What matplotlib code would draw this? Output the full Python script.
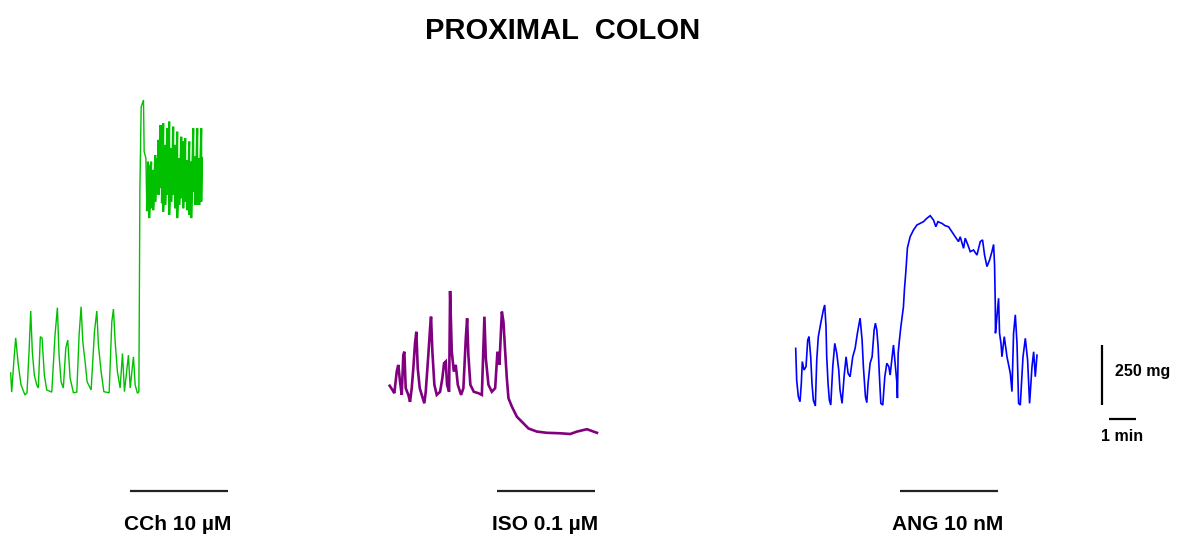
import matplotlib
matplotlib.use("Agg")
import matplotlib.pyplot as plt
import numpy as np

plt.rcParams["font.family"] = ["Liberation Sans", "DejaVu Sans"]

# Isometric tension recordings: time (s) from the start of each trace,
# tension (mg) above the lowest point of that trace.
cch_t = [0, 2.2, 8.1, 11.2, 17.1, 23.2, 32.1, 36.6, 41.2, 45.0, 48.6, 53.1, 58.5, 62.1,
         66.6, 70.5, 75.6, 81.0, 92.3, 99.6, 104.9, 108.7, 113.2, 118.3, 123.8, 128.2,
         133.5, 140.9, 148.5, 153.7, 158.2, 162.0, 167.2, 171.7, 180.7, 188.2, 193.5,
         197.1, 203.2, 209.3, 221.2, 227.2, 230.9, 234.7, 239.8, 245.9, 251.2, 255.6,
         264.6, 268.5, 275.8, 279.7, 284.9, 288.0, 289.4, 290.3, 292.5, 293.2, 298.4,
         299.9, 303.8, 306.0]
cch_mg = [92, 12, 166, 238, 125, 42, 0, 9, 179, 350, 179, 83, 42, 29,
          243, 237, 83, 21, 12, 250, 364, 166, 55, 29, 196, 229,
          71, 9, 12, 250, 368, 222, 139, 55, 21, 263, 350,
          208, 97, 14, 9, 305, 358, 222, 97, 29, 173, 14,
          166, 29, 159, 42, 7, 14, 509, 855, 1118, 1201, 1229,
          1014, 987, 770]

# Sustained phasic activity under carbachol: upper and lower excursion per sweep
cch_burst_t = [308.3, 311.2, 315.6, 320.3, 324.8, 329.2, 332.1, 336.6, 339.8, 342.7,
               347.2, 351.8, 356.2, 360.7, 365.2, 369.7, 374.2, 378.7, 383.3, 387.7,
               392.2, 396.7, 401.2, 405.7, 410.2, 414.8, 419.2, 423.7, 428.2]
cch_burst_hi = [972, 959, 972, 938, 1000, 986, 1063, 1125, 1111, 1132,
                1042, 1111, 1139, 1028, 1118, 1042, 1097, 986, 1076, 1056,
                1070, 979, 1056, 972, 1111, 993, 1111, 986, 1111]
cch_burst_lo = [770, 737, 778, 770, 805, 862, 834, 862, 799, 764,
                792, 834, 750, 805, 834, 778, 737, 792, 820, 778,
                805, 770, 750, 737, 847, 792, 792, 792, 805]
cch_end_t, cch_end_mg = 429.8, 987

iso_t = [0, 5.9, 10.4, 15.8, 19.3, 23.2, 27.0, 30.6, 32.9, 36.0, 41.9, 45.7, 49.5,
         53.1, 56.9, 59.9, 63.0, 67.5, 72.0, 77.8, 81.0, 86.8, 90.7, 92.9, 95.9,
         100.4, 105.7, 113.2, 118.3, 122.2, 126.0, 128.9, 133.5, 135.7, 139.5,
         144.1, 148.5, 153.0, 160.4, 165.6, 171.0, 174.0, 176.8, 181.3, 189.0,
         199.4, 207.1, 212.8, 216.0, 221.9, 229.5, 237.0, 242.1, 246.6, 252.0,
         255.6, 259.5, 263.2, 266.9, 274.6, 285.8, 297.0, 311.9, 330.8, 353.2,
         383.3, 405.7, 420.7, 443.3, 458.1, 465.8]
iso_mg = [201, 184, 170, 260, 288, 218, 163, 329, 343, 191, 163, 134, 191,
          274, 378, 426, 274, 191, 163, 128, 176, 329, 440, 489, 343,
          205, 163, 176, 232, 295, 302, 205, 176, 596, 343,
          260, 288, 205, 163, 191, 399, 482, 329, 205, 176,
          170, 163, 489, 315, 205, 176, 191, 343, 288, 510,
          468, 343, 232, 149, 114, 72, 51, 23, 10, 5,
          3, 0, 10, 20, 10, 5]

ang_t = [0, 2.2, 5.9, 9.7, 12.6, 14.8, 18.7, 23.2, 27.0, 29.9, 33.7, 36.6, 39.6,
         44.1, 47.3, 50.8, 56.3, 62.1, 65.2, 68.1, 69.7, 72.7, 75.6, 78.8, 83.3,
         87.8, 92.3, 96.7, 99.6, 104.2, 108.7, 113.2, 117.7, 122.2, 128.2, 133.5,
         138.6, 144.7, 149.2, 152.1, 156.7, 159.8, 162.6, 167.2, 171.7, 176.2,
         179.1, 182.3, 185.2, 188.2, 191.3, 195.7, 200.2, 204.8, 209.3, 212.2,
         216.7, 219.7, 224.1, 227.2, 228.6, 230.2, 233.1, 236.3, 242.1, 244.3,
         247.5, 251.1, 257.1, 264.6, 272.3, 279.7, 287.1, 294.7, 302.2, 309.6,
         315.0, 319.5, 328.5, 336.0, 343.4, 351.0, 358.5, 365.9, 369.7, 377.2,
         380.9, 387.0, 392.2, 399.6, 407.3, 414.8, 419.9, 424.4, 429.8, 435.6,
         441.0, 444.7, 446.9, 448.5, 448.9, 452.2, 455.9, 458.1, 461.3, 463.5,
         468.7, 474.8, 482.3, 486.0, 489.6, 493.5, 497.3, 500.9, 504.7, 510.8,
         516.0, 521.1, 525.6, 531.0, 534.7, 538.4, 542.2]
ang_mg = [240, 108, 39, 18, 94, 185, 150, 164, 275, 289, 205, 94, 25,
          0, 192, 289, 345, 400, 421, 330, 205, 94, 25, 4, 164,
          261, 219, 150, 67, 11, 122, 205, 136, 122, 205, 240,
          303, 366, 275, 164, 39, 14, 94, 178, 205, 316,
          345, 316, 247, 122, 11, 4, 122, 178, 164, 129,
          205, 254, 164, 101, 33, 219, 275, 330, 413, 484,
          560, 659, 705, 733, 754, 761, 768, 782, 793, 775,
          747, 768, 761, 751, 747, 726, 705, 685, 705, 657,
          699, 671, 643, 650, 629, 685, 692, 629, 581, 608,
          643, 673, 588, 421, 303, 372, 449, 303, 261, 205,
          289, 205, 136, 60, 303, 380, 261, 11, 4, 205,
          282, 192, 11, 164, 226, 122, 212]

drug_labels = ["CCh 10 µM", "ISO 0.1 µM", "ANG 10 nM"]
trace_colors = ["#00c000", "#800080", "#0000ff"]
scale_mg = 250
scale_s = 60

# page layout in pixels
W, H = 1178, 540
SEC_PER_PX = scale_s / 26.7
MG_PER_PX = scale_mg / 60.0


def at(x_px, y_px):
    return x_px * SEC_PER_PX, (H - y_px) * MG_PER_PX


# build the carbachol trace: onset, then alternating excursions of the burst
burst = np.column_stack([cch_burst_t, cch_burst_t]).ravel()
burst_mg = np.column_stack([cch_burst_hi, cch_burst_lo]).ravel()

traces = [
    (np.array(cch_t), np.array(cch_mg), at(10.7, 395), 1.0),
    (np.array(iso_t), np.array(iso_mg), at(389.7, 434), 1.9),
    (np.array(ang_t), np.array(ang_mg), at(795.7, 406), 1.2),
]
bar_starts_px = [130, 497, 900]

fig = plt.figure(figsize=(W / 100, H / 100), dpi=100)
ax = fig.add_axes([0, 0, 1, 1])
ax.set_xlim(0, W * SEC_PER_PX)
ax.set_ylim(0, H * MG_PER_PX)
ax.axis("off")

for (t, mg, (t0, base), lw), color in zip(traces, trace_colors):
    ax.plot(t0 + t, base + mg, color=color, lw=lw, solid_joinstyle="miter")

# the dense burst section is drawn a little heavier, as on the chart recorder
t0, base = traces[0][2]
ax.plot(t0 + np.concatenate([[cch_t[-1]], burst, [cch_end_t]]),
        base + np.concatenate([[cch_mg[-1]], burst_mg, [cch_end_mg]]),
        color=trace_colors[0], lw=1.5, solid_joinstyle="miter")

bar_len_s = 98 * SEC_PER_PX
for x_px, label in zip(bar_starts_px, drug_labels):
    x0, y0 = at(x_px, 491)
    ax.plot([x0, x0 + bar_len_s], [y0, y0], color="#222222", lw=1.6,
            solid_capstyle="butt")
    tx, ty = at(x_px + 48, 525)
    ax.text(tx, ty, label, ha="center", va="center", fontsize=15,
            fontweight="bold")

# calibration bars
vx, vy = at(1102, 405)
ax.plot([vx, vx], [vy, vy + scale_mg], color="black", lw=1.6, solid_capstyle="butt")
lx, ly = at(1115, 371.7)
ax.text(lx, ly, f"{scale_mg} mg", ha="left", va="center", fontsize=11.5,
        fontweight="bold")
hx, hy = at(1109.3, 419.3)
ax.plot([hx, hx + scale_s], [hy, hy], color="black", lw=1.6, solid_capstyle="butt")
mx, my = at(1122, 436.7)
ax.text(mx, my, "1 min", ha="center", va="center", fontsize=11.5,
        fontweight="bold")

fig.text(563 / W, 1 - 31 / H, "PROXIMAL  COLON", ha="center", va="center",
         fontsize=21, fontweight="bold")

fig.savefig("out.png", dpi=100, facecolor="white")
